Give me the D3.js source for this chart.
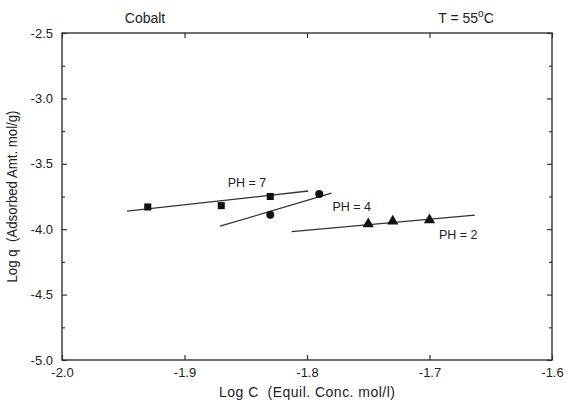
<!DOCTYPE html>
<html>
<head>
<meta charset="utf-8">
<script src="https://cdn.jsdelivr.net/npm/d3@7"></script>
<style>
  body { margin: 0; background: #fff; }
  text { font-family: "Liberation Sans", Arial, sans-serif; fill: #222; white-space: pre; }
</style>
</head>
<body>
<div id="chart"></div>
<script>
// data
let ph7X = [-1.93, -1.87, -1.83];
let ph7Y = [-3.83, -3.82, -3.75];
let ph4X = [-1.83, -1.79];
let ph4Y = [-3.89, -3.73];
let ph2X = [-1.75, -1.73, -1.70];
let ph2Y = [-3.96, -3.94, -3.93];

// fitted line ends [x0, x1], [y0, y1]
let fit7X = [-1.947, -1.799], fit7Y = [-3.862, -3.708];
let fit4X = [-1.871, -1.780], fit4Y = [-3.977, -3.725];
let fit2X = [-1.8125, -1.663], fit2Y = [-4.019, -3.892];

let labelText = ["PH = 7", "PH = 4", "PH = 2"];
let labelX = [-1.849, -1.7635, -1.6765];
let labelY = [-3.645, -3.83, -4.04];

let xTicks = [-2.0, -1.9, -1.8, -1.7, -1.6];
let yTicks = [-2.5, -3.0, -3.5, -4.0, -4.5, -5.0];
let yMinor = [-2.75, -3.25, -3.75, -4.25, -4.75];

let margin = {top: 33, right: 17, bottom: 43, left: 62};
let W = 569, H = 403;
let width = W - margin.left - margin.right;
let height = H - margin.top - margin.bottom;

let svg = d3.select("#chart").append("svg")
    .attr("width", W)
    .attr("height", H);

let g = svg.append("g")
    .attr("transform", "translate(" + margin.left + "," + margin.top + ")");

let x = d3.scaleLinear().domain([-2.0, -1.6]).range([0, width]);
let y = d3.scaleLinear().domain([-5.0, -2.5]).range([height, 0]);

let ink = "#333";
let fmt = d => d.toFixed(1);   // plain hyphen, not unicode minus

// frame
g.append("rect")
    .attr("width", width).attr("height", height)
    .attr("fill", "none").attr("stroke", ink).attr("stroke-width", 1.4);

// ticks, all pointing inward
g.append("g").attr("transform", "translate(0," + height + ")")
    .call(d3.axisBottom(x).tickValues(xTicks).tickSize(-5).tickFormat(fmt).tickPadding(8))
    .call(a => a.select(".domain").remove());
g.append("g")
    .call(d3.axisTop(x).tickValues(xTicks).tickSize(-5).tickFormat(""))
    .call(a => a.select(".domain").remove());
g.append("g")
    .call(d3.axisLeft(y).tickValues(yTicks).tickSize(-5).tickFormat(fmt).tickPadding(9))
    .call(a => a.select(".domain").remove());
g.append("g")
    .call(d3.axisLeft(y).tickValues(yMinor).tickSize(-3).tickFormat(""))
    .call(a => a.select(".domain").remove());
g.append("g").attr("transform", "translate(" + width + ",0)")
    .call(d3.axisRight(y).tickValues(yTicks).tickSize(-5).tickFormat(""))
    .call(a => a.select(".domain").remove());
g.append("g").attr("transform", "translate(" + width + ",0)")
    .call(d3.axisRight(y).tickValues(yMinor).tickSize(-3).tickFormat(""))
    .call(a => a.select(".domain").remove());

g.selectAll(".tick line").attr("stroke", ink).attr("stroke-width", 1.2);
g.selectAll(".tick text")
    .style("font-family", "'Liberation Sans', Arial, sans-serif")
    .style("font-size", "13px").attr("fill", "#222");

// fitted lines
let fits = [[fit7X, fit7Y], [fit4X, fit4Y], [fit2X, fit2Y]];
fits.forEach(f => {
    g.append("line")
        .attr("x1", x(f[0][0])).attr("y1", y(f[1][0]))
        .attr("x2", x(f[0][1])).attr("y2", y(f[1][1]))
        .attr("stroke", ink).attr("stroke-width", 1.3);
});

// squares
g.selectAll(".sq").data(ph7X.map((d, i) => [d, ph7Y[i]])).enter()
    .append("path").attr("class", "sq")
    .attr("d", d3.symbol(d3.symbolSquare, 50))
    .attr("transform", d => "translate(" + x(d[0]) + "," + y(d[1]) + ")")
    .attr("fill", "#111");

// circles
g.selectAll(".ci").data(ph4X.map((d, i) => [d, ph4Y[i]])).enter()
    .append("circle").attr("class", "ci")
    .attr("cx", d => x(d[0])).attr("cy", d => y(d[1]))
    .attr("r", 4).attr("fill", "#111");

// triangles
g.selectAll(".tr").data(ph2X.map((d, i) => [d, ph2Y[i]])).enter()
    .append("path").attr("class", "tr")
    .attr("d", d3.symbol(d3.symbolTriangle, 55))
    .attr("transform", d => "translate(" + x(d[0]) + "," + y(d[1]) + ")")
    .attr("fill", "#111");

// series labels
g.selectAll(".lab").data(labelText).enter()
    .append("text").attr("class", "lab")
    .attr("x", (d, i) => x(labelX[i])).attr("y", (d, i) => y(labelY[i]))
    .attr("text-anchor", "middle").attr("dy", "0.35em")
    .style("font-size", "12.5px")
    .text(d => d);

// headers
svg.append("text").attr("x", 145).attr("y", 23)
    .attr("text-anchor", "middle").style("font-size", "14px").text("Cobalt");
let tt = svg.append("text").attr("x", 466).attr("y", 23)
    .attr("text-anchor", "middle").style("font-size", "14px");
tt.append("tspan").text("T = 55");
tt.append("tspan").attr("dy", "-6").style("font-size", "10px").text("o");
tt.append("tspan").attr("dy", "6").text("C");

// axis titles
svg.append("text")
    .attr("x", margin.left + width / 2).attr("y", 397)
    .attr("text-anchor", "middle").style("font-size", "14px")
    .attr("textLength", 176)
    .text("Log C  (Equil. Conc. mol/l)");
svg.append("text")
    .attr("transform", "translate(17," + (margin.top + height / 2) + ") rotate(-90)")
    .attr("text-anchor", "middle").style("font-size", "14px")
    .attr("textLength", 172).attr("lengthAdjust", "spacingAndGlyphs")
    .text("Log q  (Adsorbed Amt. mol/g)");
</script>
</body>
</html>
